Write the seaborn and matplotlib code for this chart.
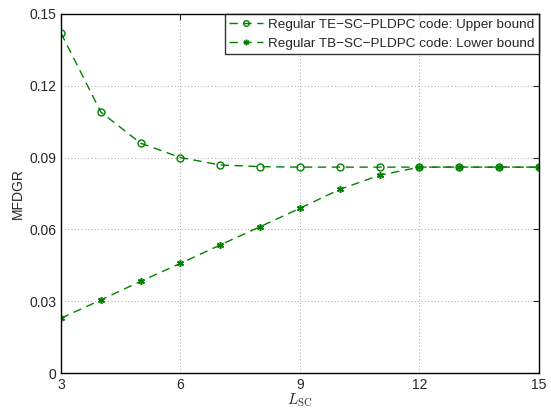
import numpy as np
import pandas as pd
import matplotlib
matplotlib.use("Agg")
import matplotlib.pyplot as plt
import seaborn as sns

L_sc = [3, 4, 5, 6, 7, 8, 9, 10, 11, 12, 13, 14, 15]
upper = [0.142, 0.109, 0.096, 0.090, 0.0869, 0.0862, 0.086, 0.086, 0.086, 0.086, 0.086, 0.086, 0.086]
lower = [0.0229, 0.0305, 0.0383, 0.0458, 0.0535, 0.0611, 0.0688, 0.0767, 0.0826, 0.086, 0.086, 0.086, 0.086]
labels = ["Regular TE\u2212SC\u2212PLDPC code: Upper bound",
          "Regular TB\u2212SC\u2212PLDPC code: Lower bound"]
xticks = [3, 6, 9, 12, 15]
yticks = [0, 0.03, 0.06, 0.09, 0.12, 0.15]

sns.set_style("white")
plt.rcParams['font.family'] = ['Liberation Sans', 'DejaVu Sans']
plt.rcParams['mathtext.fontset'] = 'cm'

df = pd.DataFrame({
    "L": L_sc * 2,
    "MFDGR": upper + lower,
    "series": [labels[0]] * len(L_sc) + [labels[1]] * len(L_sc),
})

fig = plt.figure(figsize=(5.51, 4.09), dpi=100)
ax = fig.add_axes([0.1107, 0.088, 0.8673, 0.878])
green = (0, 0.5, 0)

sns.lineplot(data=df[df.series == labels[0]], x="L", y="MFDGR", ax=ax, color=green,
             linestyle=(0, (6, 4)), lw=1.0, marker="o", markersize=5,
             markerfacecolor="none", markeredgecolor=green, markeredgewidth=1.0,
             label=labels[0])
sns.lineplot(data=df[df.series == labels[1]], x="L", y="MFDGR", ax=ax, color=green,
             linestyle=(0, (6, 4)), lw=1.0, marker=(6, 2, 0), markersize=5,
             markeredgecolor=green, markeredgewidth=1.1,
             label=labels[1])

ax.set_xlim(3, 15)
ax.set_ylim(0, 0.15)
ax.set_xticks(xticks)
ax.set_yticks(yticks)
ax.set_xticklabels([str(t) for t in xticks])
ax.set_yticklabels(["0", "0.03", "0.06", "0.09", "0.12", "0.15"])
ax.grid(True, color="#888888", linestyle=(0, (1, 3)), linewidth=0.6)
ax.tick_params(direction="in", length=4, labelsize=10, width=0.8, top=True, right=True,
               labeltop=False, labelright=False)
for s in ax.spines.values():
    s.set_edgecolor("black")
    s.set_linewidth(1.0)
ax.set_xlabel(r"$L_{\rm SC}$", fontsize=11, labelpad=0)
ax.set_ylabel("MFDGR", fontsize=10, labelpad=3)

leg = ax.legend(loc="upper right", fontsize=9.7, frameon=True, fancybox=False,
                borderaxespad=0, handlelength=2.5, borderpad=0.35, labelspacing=0.45,
                handletextpad=0.35, markerscale=0.8)
leg.get_frame().set_edgecolor("black")
leg.get_frame().set_linewidth(1.0)

fig.savefig("out.png", dpi=100)
